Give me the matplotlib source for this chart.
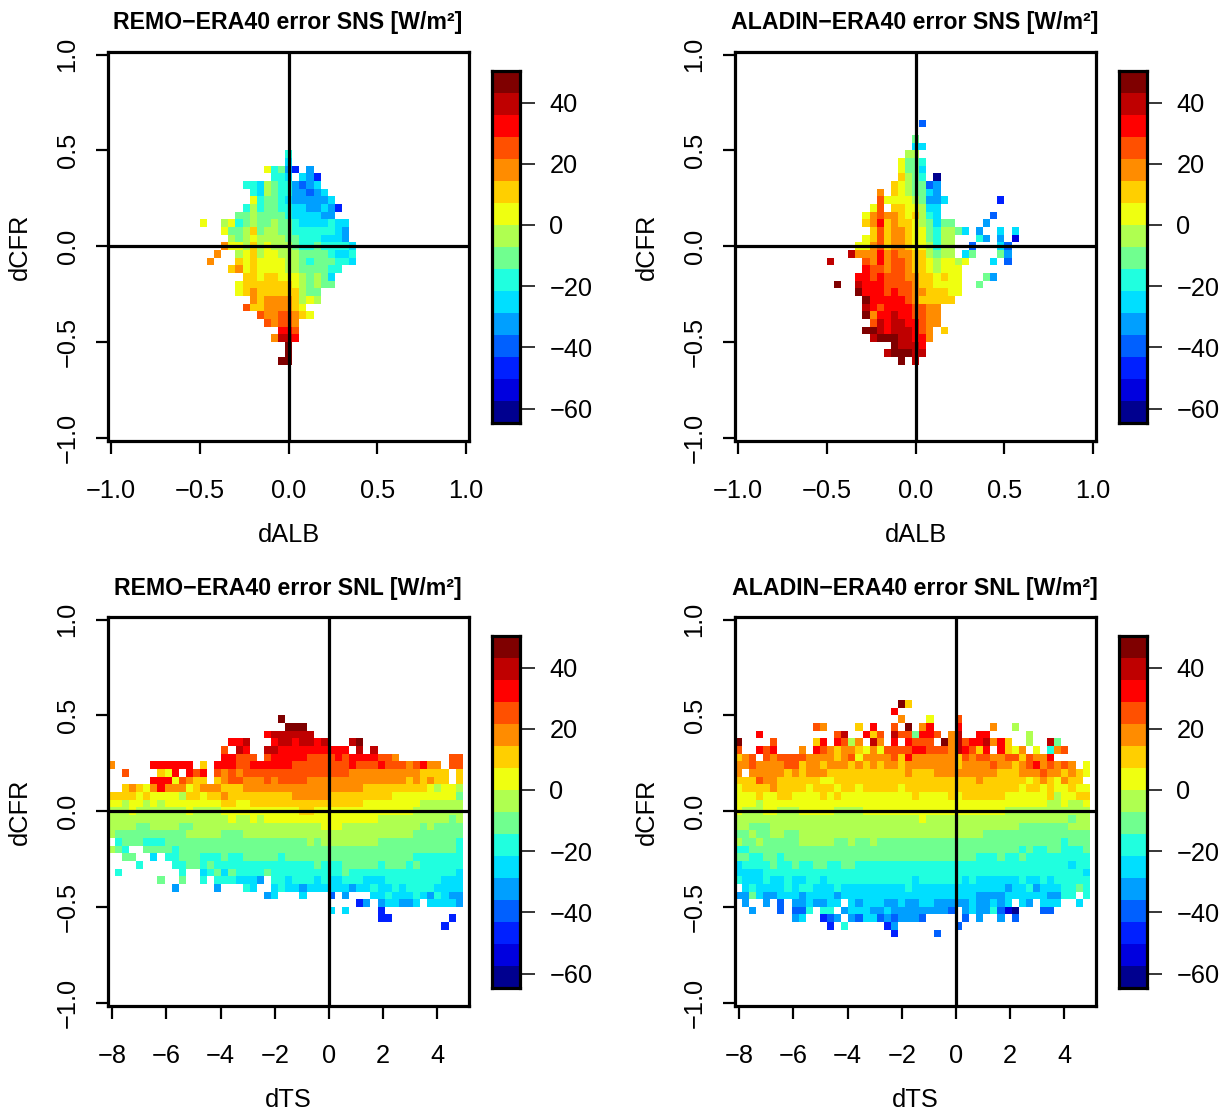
# Model minus ERA40 radiation error, binned on cloud and albedo / temperature differences
import re
import numpy as np
import matplotlib
matplotlib.use('Agg')
import matplotlib.pyplot as plt
from matplotlib.colors import ListedColormap, BoundaryNorm

plt.rcParams['font.family'] = ['Liberation Sans', 'DejaVu Sans']

# colour classes, dark blue to dark red
class_keys = 'abcdefghijklmnop'
class_colors = ['#00008F', '#0000DF', '#0020FF', '#0060FF', '#009FFF', '#00DFFF', '#20FFDF', '#70FF8F',
                '#AFFF50', '#EFFF10', '#FFCF00', '#FF8C00', '#FF5000', '#FF0000', '#BF0000', '#7F0000']
class_edges = np.linspace(-64.7, 50.3, 17)

# Each row is one dCFR bin, top row first. Rows are run-length coded: "3k" = three cells of
# class k, "." = empty cell. dCFR bins are 0.04 wide.
remo_sns_top = 12
remo_sns_first = -12
remo_sns = ["12.g", "12.f", "9.jghec.e", "10.2gf.fec", "6.2gfih2gedef", "7.gfih2g2edef", "7.jg2hgf5ef",
            "6.gig2h2g2f2efec", "5.2hi4hg4f2e", "j2.ijghi2hi2hg4fg2f", "3.j2hikh2i2h6gfe", "4.ihij4i2h3g3fe",
            "3.l2jikij3ih2gh4gf", "2.l2.ijki2j3i4hg2fg", ".l3.kjk4j2ihg3h2gf", "4.kljk4j2i4h2g", "6.2kj2k3jihihf",
            "5.j7kjihi2h", "5.jkl6ki2h", "7.lk4lkiji", "6.m2k4lkj", "8.m2l2mlkj", "9.ml2ml", "11.2nm",
            "10.l2on", "12.p", "12.p", "11.2p"]

aladin_sns_top = 16
aladin_sns_first = -12
aladin_sns = ["13.d", "", "12.h", "12.2f", "11.2i", "10.j2hg", "10.j2hf", "10.kihg.a", "9.kji2hde",
              "7.l.kji2hfe", "7.m4jih2ef7.c", "6.jm.2k2ji2f", "5.jlm2lkjkigf7.d", "5.klnkl2kjihf2h4.e",
              "6.kmk2lk2jhg2ihf.e2.f.f", "5.jkmk2lk2jhg2i3.ge.e.b", "4.2jlmk2lk2jig2i2.d3.fd",
              "3.o3lnlm2l2kih2i.fh3.he", "o4.mlnl2ml2kji2jij3.f.d", "5.n2ml2ml2kji3j", "4.2nmn3m2l2kjk2j3.he",
              ".p2.o3n4ml2k4j2.h", "4.p3nmn2m2l3k2j", "5.p5nml5k", "5.onm4n2m2l", "5.pl2no2n2m2l",
              "6.mon2o2nm2l", "5.2pon3onml.k", "6.o3p2o2nl", "9.p3on", "8.o3p2o", "10.p.o"]

remo_snl_top = 12
remo_snl = ["24.p", "25.3p", "22.n6o", "17.2no3.n2on2ono3.op", "16.m.on2.2o10n.o.o",
            "16.2n3m.m5n4mnm4n2ml7.2m", "l5.6n.k.3n2m6n8mn3mn3mlmn2l.2m", "2.m4.kjn.nmn.mlml15m10l4k.k",
            "6.3njml2k.kl2m3lml4m14lklkl2k.k", "2.klkjln3ljk3l3k17l9kji2ji", "4kjk4ji2kj2kl9k5l9k9jh",
            "2ji2jiji8j2k2j16k8j6i", "3ij7ij4i11j2k14j7i", "17ij2iji16j10ihi", "4i2h4i2h18i3j11ihi4h",
            "i10h5i3h24i7h", ".g3h3g20hih8i11hg", "ihg2.4hg39hg", "2.2h2.f.2g3h3gh2g5hg18h7g",
            "4.g4.2g2hgh14gh3g5hg3hgh6g", ".g8.g2.fghfh4gh10gh15gf", "7.h2.h2.g.3g3fe.2gf3gfg2f3g3f8g3f",
            "9.e5.e3.gf2.fg2fe6fe2fg2fgf4g4f", "22.ef3.f3.d.e3.2fg3fgfegf2e", "35.ce.e2f2ef.4fe",
            "31.f.f4.c", "38.2c8.c", "47.c"]

aladin_snl_top = 14
aladin_snl = ["23.pk", "22.n", "23.l3.j3.m", "11.ml4.k.n2.m.p.ln3.n4.l2.i",
              "3.n10.mo2.nkm.o2mh2nm.lo2.2n5.i", "p4.m5.kn.nmil.ol.n.n3m.plom2nolnk2.i2.oh",
              "m2.nmn3.l.nmlk2lkjlj4m2n3mlonmkn.nkjl.j.glm", "klm.ml4m4lklmj4lmkn6lkml2m2l2mkm2ln",
              "2lm4l2mk2lk3lklklk2lk7lk4lm2lklmnlmlml.j", "l.5lklk3l11kl3k9l3k3lm2lklkj",
              "3km2l6k2j20kl6kjklkjl2k", "j4kl4kj3kj2kj5kj16kj2kjk2jk2j", "3jk2j2k4jkjk10jk4jkj6k6jki2j2k",
              "3ji40j2ij2ij", "j3i2j3i5j4i20j12i", "26ij20ih2i", "2i3h35i7h3i", "2hi2h2i2h26i15h",
              "i2hi5h5i2hi2hi26hg3h", "2g38hgh2g2h3gh", "2h2g2hg27h3gh2gh9g", "f4gh2gh2g2h2g2h30gf2g",
              "4f45gf", "g3fg2fg2f2gf12gf6gfg6fg2fgf5g", ".fg4fgf2g3fg9fg13fe2fge3f2ghg",
              "2ehf2e3fe4fe19f4e6f2e2g.g", ".e2.e.d.2ef2e2f.fe3f2ef2e2f5ef2efef.fe.3f2.f",
              "2.e3.d.2dg.2g.e3f2ef8ed.ef2egdba3.2d", "8.ef2.cde.ed2fded3ed5.d.e2.e.d", "13.c.g5.ce8.d", "22.c5.d"]

cfr_step = 0.04
alb_step = 0.04
dts_start = -8.171
dts_step = 0.2622

cfr_ticks = [-1.0, -0.5, 0.0, 0.5, 1.0]
alb_ticks = [-1.0, -0.5, 0.0, 0.5, 1.0]
dts_ticks = [-8, -6, -4, -2, 0, 2, 4]
bar_ticks = [-60, -40, -20, 0, 20, 40]

FIG_W, FIG_H = 1230, 1111
cmap = ListedColormap(class_colors)
norm = BoundaryNorm(class_edges, cmap.N)
class_mid = (class_edges[:-1] + class_edges[1:]) / 2


def decode(rows):
    # turn the coded rows into a 2D array of values, NaN where there is no data
    parsed = []
    for row in rows:
        cells = []
        for count, key in re.findall(r'(\d*)([a-p.])', row):
            n = int(count) if count else 1
            value = np.nan if key == '.' else class_mid[class_keys.index(key)]
            cells += [value] * n
        parsed.append(cells)
    width = max(len(c) for c in parsed)
    return np.array([c + [np.nan] * (width - len(c)) for c in parsed])


def px_axes(left, top, right, bottom):
    return fig.add_axes([left / FIG_W, 1 - bottom / FIG_H, (right - left) / FIG_W, (bottom - top) / FIG_H])


def panel(left, top, title, xlabel, grid, top_row, xedges, xlim, xticks, xline=0):
    ax = px_axes(left, top, left + 361, top + 389)
    yedges = (top_row + 0.5 - np.arange(grid.shape[0] + 1)) * cfr_step
    ax.pcolormesh(xedges, yedges, np.ma.masked_invalid(grid), cmap=cmap, norm=norm, linewidth=0)
    ax.axhline(0, color='black', lw=2.3)
    ax.axvline(xline, color='black', lw=2.3)
    ax.set_xlim(xlim)
    ax.set_ylim(-1.018, 1.014)
    ax.set_xticks(xticks)
    ax.set_xticklabels([f'{t:.1f}'.replace('-', '\u2212') if isinstance(t, float) else str(t).replace('-', '\u2212')
                        for t in xticks])
    ax.set_yticks(cfr_ticks)
    ax.set_yticklabels([f'{t:.1f}'.replace('-', '\u2212') for t in cfr_ticks], rotation=90, va='center')
    ax.tick_params(length=9, width=1.6, labelsize=18.3, pad=11.5)
    ax.tick_params(axis='x', pad=18.5)
    for spine in ax.spines.values():
        spine.set_linewidth(2.3)
    ax.xaxis.set_label_coords(0.5, -0.212)
    ax.yaxis.set_label_coords(-0.21, 0.5)
    ax.set_xlabel(xlabel, fontsize=18.3)
    ax.set_ylabel('dCFR', fontsize=18.3)
    fig.text((left + 180) / FIG_W, 1 - (top - 29) / FIG_H, title, fontsize=16.7, fontweight='bold',
             ha='center', va='center')

    # colour bar to the right of the panel
    bar = px_axes(left + 384, top + 19, left + 412, top + 371)
    bar.pcolormesh([0, 1], class_edges, class_mid.reshape(-1, 1), cmap=cmap, norm=norm)
    bar.set_xticks([])
    bar.yaxis.tick_right()
    bar.set_yticks(bar_ticks)
    bar.set_yticklabels([str(t).replace('-', '\u2212') for t in bar_ticks])
    bar.tick_params(length=10.5, width=1.1, labelsize=18.3, pad=10.7)
    for spine in bar.spines.values():
        spine.set_linewidth(2.3)


fig = plt.figure(figsize=(FIG_W / 100, FIG_H / 100), dpi=100)

remo_a = decode(remo_sns)
aladin_a = decode(aladin_sns)
remo_b = decode(remo_snl)
aladin_b = decode(aladin_snl)

alb_lim = (-1.018, 1.0157)
dts_lim = (-8.16, 5.17)

panel(108, 52, 'REMO\u2212ERA40 error SNS [W/m\u00b2]', 'dALB', remo_a, remo_sns_top,
      (remo_sns_first - 0.5 + np.arange(remo_a.shape[1] + 1)) * alb_step, alb_lim, alb_ticks)
panel(735, 52, 'ALADIN\u2212ERA40 error SNS [W/m\u00b2]', 'dALB', aladin_a, aladin_sns_top,
      (aladin_sns_first - 0.5 + np.arange(aladin_a.shape[1] + 1)) * alb_step, alb_lim, alb_ticks)
panel(108, 617, 'REMO\u2212ERA40 error SNL [W/m\u00b2]', 'dTS', remo_b, remo_snl_top,
      dts_start + dts_step * np.arange(remo_b.shape[1] + 1), dts_lim, dts_ticks)
panel(735, 617, 'ALADIN\u2212ERA40 error SNL [W/m\u00b2]', 'dTS', aladin_b, aladin_snl_top,
      dts_start + dts_step * np.arange(aladin_b.shape[1] + 1), dts_lim, dts_ticks)

fig.savefig('out.png', dpi=100)
